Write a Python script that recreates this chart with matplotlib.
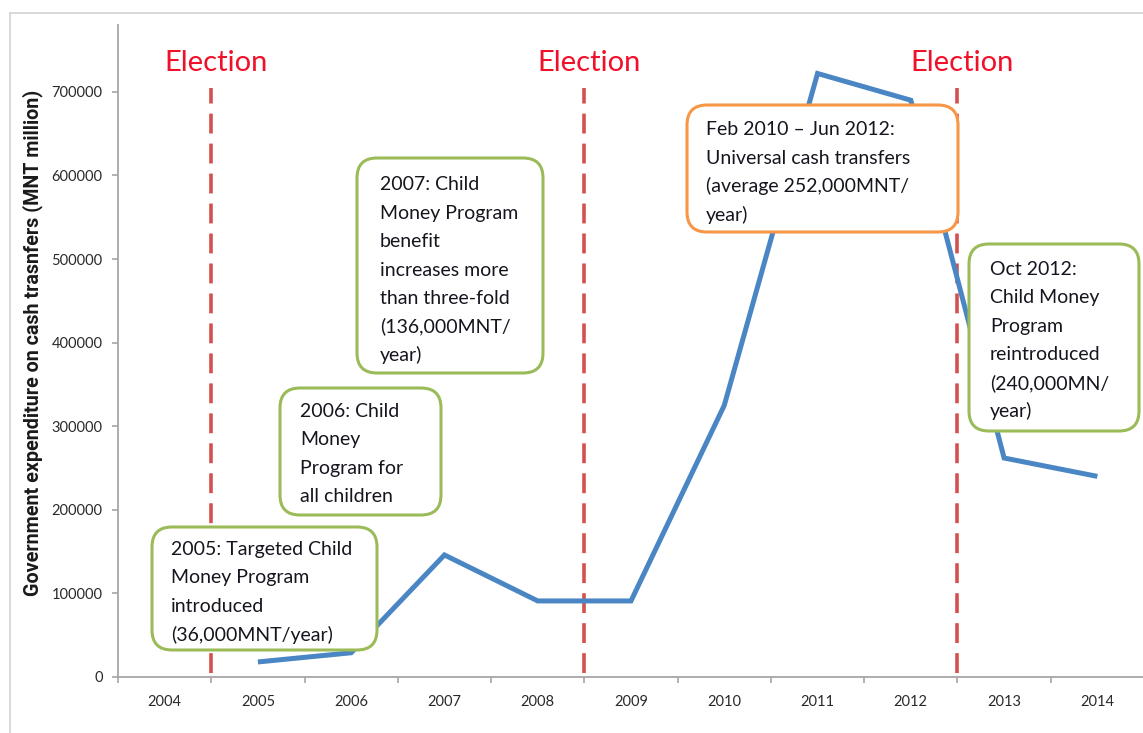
import matplotlib
matplotlib.use("Agg")
import numpy as np
import matplotlib.pyplot as plt
from matplotlib.patches import FancyBboxPatch
from matplotlib.lines import Line2D

# ---- data -------------------------------------------------------------
years = ["2004", "2005", "2006", "2007", "2008", "2009",
         "2010", "2011", "2012", "2013", "2014"]
spending = [np.nan, 18000, 29000, 146000, 91000, 91000,
            325000, 722000, 690000, 262000, 240000]
election_after = ["2004", "2008", "2012"]   # elections fall between these years and the next
y_ticks = [0, 100000, 200000, 300000, 400000, 500000, 600000, 700000]
y_label = "Government expenditure on cash trasnfers (MNT million)"

notes = [
    ["2005: Targeted Child", "Money Program", "introduced", "(36,000MNT/year)"],
    ["2006: Child", "Money", "Program for", "all children"],
    ["2007: Child", "Money Program", "benefit", "increases more",
     "than three-fold", "(136,000MNT/", "year)"],
    ["Feb 2010 \u2013 Jun 2012:", "Universal cash transfers",
     "(average 252,000MNT/", "year)"],
    ["Oct 2012:", "Child Money", "Program", "reintroduced",
     "(240,000MN/", "year)"],
]

# ---- styling ----------------------------------------------------------
W, H, DPI = 1143, 733, 100
FONT = "Lato"
LINE_BLUE = "#4a86c4"
ELECTION_RED = "#d4504f"
GREEN = "#9bbb59"
ORANGE = "#f79646"
AXIS_GREY = "#a6a6a6"

fig = plt.figure(figsize=(W / DPI, H / DPI), dpi=DPI)
fig.patch.set_facecolor("white")


def pix(x, y):
    """Pixel position (from top-left) to inches for dpi_scale_trans."""
    return x / DPI, (H - y) / DPI


# thin frame around the chart area
fig.add_artist(Line2D([10 / W, 10 / W], [0, 1 - 13 / H], transform=fig.transFigure,
                      color="#d6d6d6", lw=1.3))
fig.add_artist(Line2D([10 / W, 1], [1 - 13 / H, 1 - 13 / H], transform=fig.transFigure,
                      color="#d6d6d6", lw=1.3))

ax = fig.add_axes([118 / W, 1 - 677 / H, (1144 - 118) / W, (677 - 25) / H])
x = np.arange(len(years))
ax.plot(x, spending, color=LINE_BLUE, lw=3.6, solid_joinstyle="miter",
        solid_capstyle="butt", zorder=3)

ax.set_xlim(-0.5, len(years) - 0.5)
ax.set_ylim(0, 780000)
ax.set_xticks(x)
ax.set_xticklabels(years)
ax.set_xticks(np.arange(-0.5, len(years) + 0.5, 1), minor=True)
ax.set_yticks(y_ticks)
ax.set_yticklabels([str(v) for v in y_ticks])

ax.tick_params(axis="x", which="major", length=0, pad=13, labelsize=10.5,
               labelcolor="#2a2a2a")
ax.tick_params(axis="x", which="minor", length=4, width=1.2, color=AXIS_GREY,
               direction="out")
ax.tick_params(axis="y", length=4, width=1.2, color=AXIS_GREY, pad=7,
               labelsize=10.5, labelcolor="#2a2a2a")
for lab in ax.get_xticklabels() + ax.get_yticklabels():
    lab.set_family(FONT)

for side in ("top", "right"):
    ax.spines[side].set_visible(False)
for side in ("left", "bottom"):
    ax.spines[side].set_color(AXIS_GREY)
    ax.spines[side].set_linewidth(1.3)

# axis title, set as figure text so it can sit beside the tick labels
tx, ty = pix(33, 343)
fig.text(tx, ty, y_label, transform=fig.dpi_scale_trans, rotation=90,
         ha="center", va="center", family="Roboto", fontweight="bold",
         fontsize=14.2, color="#1a1a1a")

# election markers
for yr in election_after:
    xe = years.index(yr) + 0.5
    ax.plot([xe, xe], [5000, 705000], color=ELECTION_RED, lw=2.6,
            linestyle=(0, (5.5, 2.8)), zorder=2)
    ax.text(xe + 0.05, 735000, "Election", color="#f0102a", family=FONT,
            fontsize=21, ha="center", va="center", zorder=4)

# annotation boxes: (left, top, right, bottom) in pixels, text left, first baseline
boxes = [
    ((152, 527, 377, 650), 171, 555, GREEN),
    ((280, 388, 441, 515), 300, 417, GREEN),
    ((357, 158, 543, 373), 380, 190, GREEN),
    ((687, 105, 958, 232), 706, 135, ORANGE),
    ((969, 244, 1139, 431), 990, 275, GREEN),
]
STEP = 28.5
for lines, ((x0, y0, x1, y1), tx, ty, ec) in zip(notes, boxes):
    bx, by = pix(x0, y1)
    patch = FancyBboxPatch((bx, by), (x1 - x0) / DPI, (y1 - y0) / DPI,
                           boxstyle="round,pad=0,rounding_size=0.2",
                           transform=fig.dpi_scale_trans, facecolor="white",
                           edgecolor=ec, linewidth=2.2, zorder=5)
    fig.add_artist(patch)
    for i, line in enumerate(lines):
        px_, py_ = pix(tx, ty + i * STEP)
        fig.text(px_, py_, line, transform=fig.dpi_scale_trans, ha="left",
                 va="baseline", family=FONT, fontsize=14, color="#15151f",
                 zorder=6)

fig.savefig("out.png", dpi=DPI, facecolor="white")
